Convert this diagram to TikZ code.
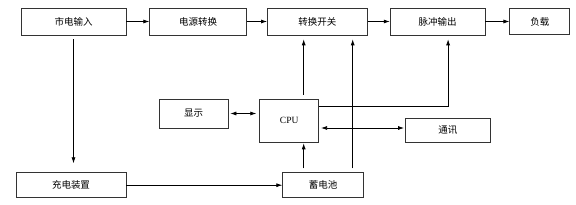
\documentclass[tikz,border=0pt]{standalone}
\usepackage{fontspec}
\setmainfont{Liberation Serif}
\newfontfamily\cjk{Noto Sans CJK SC}
\usepackage{tikz}
\usetikzlibrary{arrows.meta, positioning, calc}

\begin{document}
\begin{tikzpicture}[x=1pt, y=-1pt,
  block/.style={draw=black!80, line width=0.7pt, rectangle, inner sep=0pt, minimum height=27pt, font=\cjk\fontsize{9.5}{11}\selectfont},
  arr/.style={-{Latex[length=6pt,width=4pt]}, line width=0.7pt},
  darr/.style={{Latex[length=6pt,width=4pt]}-{Latex[length=6pt,width=4pt]}, line width=0.7pt}]

  \useasboundingbox (0,0) rectangle (576,205);

  \node[block, minimum width=105pt] (input) at (73.5,21.5) {市电输入};

  \node[block, minimum width=97pt, right=23pt of input] (conv) {电源转换};

  \node[block, minimum width=100pt, right=20pt of conv] (switch) {转换开关};

  \node[block, minimum width=95pt, right=22pt of switch] (pulse) {脉冲输出};

  \node[block, minimum width=60pt, minimum height=26pt, right=24pt of pulse] (load) {负载};

  \node[block, minimum width=110pt, minimum height=25pt, below=137pt of input, xshift=-2.5pt] (charger) {充电装置};

  \node[block, minimum width=81pt, minimum height=25pt, right=156pt of charger] (bat) {蓄电池};

  \node[block, minimum width=59pt, minimum height=43pt, above=30pt of bat, xshift=-34pt, font=\fontsize{9.5}{11}\selectfont] (cpu) {CPU};

  \node[block, minimum width=69pt, minimum height=29pt, left=31pt of cpu.north west, anchor=north east] (disp) {显示};

  \node[block, minimum width=85pt, minimum height=24pt, right=86pt of cpu.south east, anchor=south west] (comm) {通讯};

  \coordinate (cpuup) at ([xshift=14.5pt]cpu.north);
  \coordinate (batup) at ([xshift=29.5pt]bat.north);
  \coordinate (cpuout) at ([yshift=14.5pt]cpu.east);
  \coordinate (pulsein) at ([xshift=10.5pt]pulse.south);
  \coordinate (commin) at ([yshift=2pt]comm.west);

  \draw[arr] (input) -- (conv);
  \draw[arr] (conv) -- (switch);
  \draw[arr] (switch) -- (pulse);
  \draw[arr] (pulse) -- (load);
  \draw[arr, shorten <=4pt, shorten >=9pt] (input.south) -- (input.south |- charger.north);
  \draw[arr] (charger) -- (bat);
  \draw[arr, shorten <=4pt, shorten >=1pt] (bat.north -| cpuup) -- (cpu.south -| cpuup);
  \draw[arr, shorten <=4pt, shorten >=4pt] (cpuup) -- (cpuup |- switch.south);
  \draw[arr, shorten <=4pt, shorten >=4pt] (batup) -- (batup |- switch.south);
  \draw[arr, shorten >=4pt] (cpuout) -| (pulsein);
  \draw[darr, shorten <=2pt, shorten >=3pt] (disp.east) -- (disp.east -| cpu.west);
  \draw[darr, shorten <=2pt, shorten >=1pt] (commin -| cpu.east) -- (commin);
\end{tikzpicture}
\end{document}
